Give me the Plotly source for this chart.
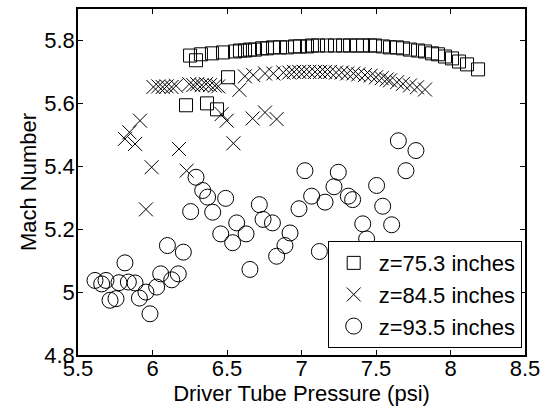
import plotly.graph_objects as go

# z = 75.3 inches (squares)
sq_x = [6.252, 6.292, 6.325, 6.399, 6.473, 6.554, 6.587, 6.621, 6.654, 6.688, 6.735, 6.768,
        6.809, 6.856, 6.903, 6.956, 6.990, 7.037, 7.070, 7.111, 7.171, 7.225, 7.279, 7.326,
        7.372, 7.413, 7.460, 7.493, 7.547, 7.594, 7.641, 7.681, 7.728, 7.782, 7.829, 7.876,
        7.916, 7.963, 8.010, 8.057, 8.111, 8.185,
        6.225, 6.366, 6.433, 6.507]
sq_y = [5.752, 5.737, 5.756, 5.759, 5.762, 5.765, 5.768, 5.768, 5.771, 5.771, 5.775, 5.775,
        5.778, 5.778, 5.778, 5.781, 5.781, 5.781, 5.784, 5.784, 5.784, 5.784, 5.784, 5.784,
        5.784, 5.784, 5.784, 5.784, 5.781, 5.778, 5.778, 5.775, 5.771, 5.768, 5.765, 5.759,
        5.756, 5.749, 5.743, 5.733, 5.724, 5.708,
        5.594, 5.600, 5.581, 5.683]

# z = 84.5 inches (crosses)
x_x = [5.815, 5.845, 5.883, 5.916, 5.956, 5.994, 6.006, 6.039, 6.068, 6.095, 6.128, 6.158,
       6.178, 6.229, 6.247, 6.274, 6.300, 6.330, 6.359, 6.386, 6.419, 6.441, 6.464, 6.498,
       6.543, 6.583, 6.620, 6.676, 6.672, 6.755, 6.833,
       6.755, 6.811, 6.878, 6.918, 6.950, 6.985, 7.017, 7.052, 7.091, 7.124, 7.158, 7.191,
       7.232, 7.270, 7.307, 7.348, 7.381, 7.426, 7.464, 7.500, 7.538, 7.572, 7.594, 7.641,
       7.681, 7.728, 7.775, 7.829]
x_y = [5.487, 5.508, 5.471, 5.545, 5.263, 5.397, 5.652, 5.654, 5.652, 5.654, 5.652, 5.656,
       5.455, 5.386, 5.661, 5.658, 5.661, 5.658, 5.661, 5.658, 5.656, 5.654, 5.566, 5.545,
       5.473, 5.643, 5.686, 5.690, 5.552, 5.571, 5.550,
       5.695, 5.695, 5.698, 5.698, 5.700, 5.700, 5.700, 5.700, 5.700, 5.700, 5.700, 5.700,
       5.698, 5.698, 5.695, 5.695, 5.692, 5.690, 5.688, 5.683, 5.680, 5.676, 5.673, 5.667,
       5.662, 5.657, 5.651, 5.644]

# z = 93.5 inches (circles)
ci_x = [5.614, 5.659, 5.688, 5.715, 5.755, 5.775, 5.815, 5.838, 5.883, 5.912, 5.956, 5.983,
        6.028, 6.055, 6.100, 6.129, 6.173, 6.207, 6.256, 6.292, 6.337, 6.370, 6.404, 6.458,
        6.491, 6.538, 6.565, 6.628, 6.654, 6.717, 6.742, 6.805, 6.833, 6.889, 6.923, 6.983,
        7.023, 7.068, 7.120, 7.158, 7.218, 7.247, 7.314, 7.343, 7.411, 7.437, 7.504, 7.545,
        7.605, 7.650, 7.701, 7.768]
ci_y = [5.037, 5.026, 5.037, 4.974, 4.979, 5.030, 5.093, 5.032, 5.029, 4.981, 5.000, 4.931,
        5.016, 5.058, 5.148, 5.039, 5.058, 5.127, 5.256, 5.365, 5.323, 5.302, 5.254, 5.185,
        5.298, 5.157, 5.220, 5.185, 5.072, 5.278, 5.231, 5.220, 5.114, 5.148, 5.188, 5.265,
        5.386, 5.305, 5.129, 5.286, 5.335, 5.381, 5.305, 5.294, 5.217, 5.169, 5.339, 5.273,
        5.214, 5.481, 5.386, 5.450]

x_ticks = [5.5, 6, 6.5, 7, 7.5, 8, 8.5]
x_tick_text = ["5.5", "6", "6.5", "7", "7.5", "8", "8.5"]
y_ticks = [4.8, 5.0, 5.2, 5.4, 5.6, 5.8]
y_tick_text = ["4.8", "5", "5.2", "5.4", "5.6", "5.8"]

FONT = "Liberation Sans, Arial, sans-serif"
FS = 22

fig = go.Figure()
fig.add_trace(go.Scatter(x=sq_x, y=sq_y, mode="markers", name="z=75.3 inches",
                         marker=dict(symbol="square-open", size=13, color="black",
                                     line=dict(width=1, color="black"))))
fig.add_trace(go.Scatter(x=x_x, y=x_y, mode="markers", name="z=84.5 inches",
                         marker=dict(symbol="x-thin-open", size=14, color="black",
                                     line=dict(width=1, color="black"))))
fig.add_trace(go.Scatter(x=ci_x, y=ci_y, mode="markers", name="z=93.5 inches",
                         marker=dict(symbol="circle-open", size=16, color="black",
                                     line=dict(width=1, color="black"))))

axis_common = dict(showline=True, linecolor="black", linewidth=1.5, mirror="ticks",
                   ticks="inside", ticklen=5, tickcolor="black", tickwidth=1,
                   showgrid=False, zeroline=False,
                   tickfont=dict(family=FONT, size=FS, color="black"))

fig.update_layout(
    width=547, height=410,
    margin=dict(l=78, r=22, t=7, b=55),
    plot_bgcolor="white", paper_bgcolor="white",
    font=dict(family=FONT, size=FS, color="black"),
    xaxis=dict(range=[5.5, 8.5], tickvals=x_ticks, ticktext=x_tick_text,
               ticklabelstandoff=-7,
               title=dict(text="Driver Tube Pressure (psi)", standoff=0,
                          font=dict(family=FONT, size=FS)), **axis_common),
    yaxis=dict(range=[4.8, 5.9], tickvals=y_ticks, ticktext=y_tick_text,
               ticklabelstandoff=-3,
               title=dict(text="Mach Number", standoff=2,
                          font=dict(family=FONT, size=FS)), **axis_common),
    legend=dict(x=0.9926, y=0.02, xanchor="right", yanchor="bottom",
                bordercolor="black", borderwidth=1, bgcolor="white",
                font=dict(family=FONT, size=FS), tracegroupgap=0,
                itemwidth=40, itemsizing="trace"),
    showlegend=True,
)

fig.write_html("out.html")
